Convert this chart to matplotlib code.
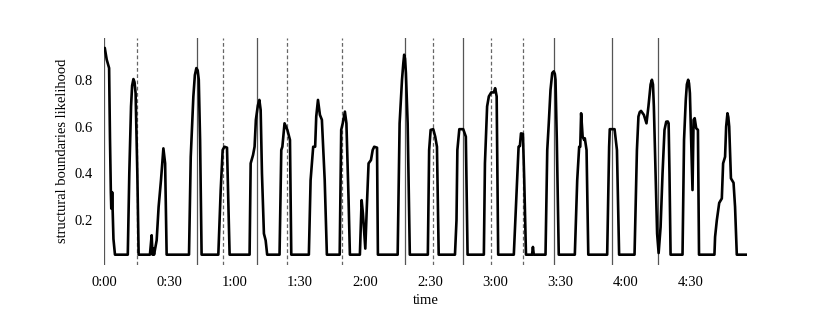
import matplotlib
matplotlib.use("Agg")
import matplotlib.pyplot as plt

# likelihood curve (time in seconds, likelihood)
times = [0.0, 0.2, 1.1, 2.2, 2.6, 3.0, 3.2, 3.4, 3.6, 3.9, 4.2, 4.9,
         10.8, 11.5, 12.3, 12.8, 13.4, 13.9, 14.4, 15.2, 15.8,
         21.0, 21.8, 22.2, 22.5, 22.9, 24.1, 25.0, 26.1, 27.2, 28.0, 28.7,
         39.0, 39.8, 41.0, 41.7, 42.4, 43.0, 43.5, 44.1, 44.8,
         52.5, 53.6, 54.5, 55.3, 56.5, 57.7,
         66.9, 67.4, 68.5, 69.2, 69.8, 70.7, 71.4, 72.0, 72.6, 73.5, 74.3, 75.0,
         80.7, 81.5, 82.0, 83.0, 84.3, 85.5, 86.1,
         94.2, 95.0, 96.2, 97.1, 97.6, 98.4, 99.3, 100.2, 101.5, 102.5,
         108.4, 109.1, 109.8, 110.8, 111.5, 112.5, 113.1,
         117.7, 118.5, 119.1, 120.2, 120.9, 121.7, 122.8, 123.6, 124.3, 125.6, 126.0,
         135.1, 136.0, 137.1, 137.7, 138.1, 138.5, 138.9, 139.7, 140.7,
         149.0, 149.6, 150.3, 151.5, 152.4, 153.2, 154.0,
         161.5, 162.2, 162.6, 163.5, 165.3, 166.5, 167.3,
         174.8, 175.3, 176.3, 177.1, 178.2, 179.4, 180.0, 180.7, 181.4,
         188.6, 189.7, 190.2, 190.8, 191.4, 191.9, 192.8, 193.4, 194.2,
         197.0, 197.4, 197.8,
         203.2, 204.0, 204.7, 205.5, 206.3, 207.0, 207.5, 207.8, 208.4, 209.3,
         216.7, 217.8, 218.7, 219.2, 219.6, 220.3, 221.0, 221.3, 222.1, 222.9,
         231.6, 232.5, 232.8, 235.0, 236.1, 237.1,
         244.2, 245.3, 246.0, 246.6, 247.2, 248.5, 249.7, 250.6, 251.6, 252.2, 252.7,
         253.1, 253.9, 254.6,
         255.3, 256.2, 257.1, 258.0, 258.8, 259.5, 259.9, 260.3, 260.8,
         266.3, 267.0, 267.8, 268.3, 268.9, 269.3, 269.7, 270.3, 270.9, 271.4, 271.9, 272.6, 273.4, 273.9,
         281.0, 281.3, 282.1, 283.2, 284.4, 285.0, 285.9, 286.4, 287.0, 287.4, 287.8, 288.6,
         289.8, 290.5, 291.3, 296.0]
likelihood = [0.93, 0.936, 0.886, 0.85, 0.55, 0.32, 0.25, 0.25, 0.32, 0.22, 0.12, 0.053,
              0.053, 0.40, 0.686, 0.775, 0.803, 0.79, 0.743, 0.40, 0.053,
              0.053, 0.136, 0.053, 0.08, 0.053, 0.114, 0.257, 0.372, 0.507, 0.443, 0.053,
              0.053, 0.471, 0.728, 0.82, 0.850, 0.84, 0.80, 0.543, 0.053,
              0.053, 0.329, 0.50, 0.514, 0.51, 0.053,
              0.053, 0.443, 0.479, 0.514, 0.629, 0.69, 0.714, 0.671, 0.40, 0.143, 0.114, 0.053,
              0.053, 0.50, 0.514, 0.614, 0.586, 0.543, 0.053,
              0.053, 0.371, 0.514, 0.514, 0.643, 0.714, 0.65, 0.629, 0.371, 0.053,
              0.053, 0.586, 0.614, 0.664, 0.614, 0.286, 0.053,
              0.053, 0.286, 0.229, 0.079, 0.257, 0.443, 0.457, 0.50, 0.514, 0.51, 0.053,
              0.053, 0.614, 0.800, 0.87, 0.907, 0.89, 0.829, 0.614, 0.053,
              0.053, 0.50, 0.586, 0.589, 0.557, 0.514, 0.053,
              0.053, 0.20, 0.50, 0.589, 0.589, 0.557, 0.053,
              0.053, 0.443, 0.686, 0.729, 0.746, 0.746, 0.764, 0.729, 0.053,
              0.053, 0.286, 0.40, 0.514, 0.517, 0.571, 0.569, 0.371, 0.053,
              0.053, 0.086, 0.053,
              0.053, 0.50, 0.614, 0.757, 0.829, 0.836, 0.825, 0.800, 0.543, 0.053,
              0.053, 0.371, 0.514, 0.514, 0.657, 0.557, 0.543, 0.55, 0.50, 0.053,
              0.053, 0.514, 0.589, 0.589, 0.50, 0.053,
              0.053, 0.50, 0.643, 0.662, 0.667, 0.65, 0.614, 0.686, 0.78, 0.800, 0.78,
              0.686, 0.40, 0.143,
              0.06, 0.171, 0.40, 0.586, 0.621, 0.622, 0.614, 0.40, 0.053,
              0.053, 0.543, 0.714, 0.78, 0.800, 0.785, 0.743, 0.543, 0.329, 0.629, 0.636, 0.593, 0.586, 0.053,
              0.053, 0.129, 0.20, 0.274, 0.293, 0.443, 0.471, 0.60, 0.657, 0.64, 0.60, 0.379,
              0.36, 0.257, 0.053, 0.053]

# annotated boundaries (seconds)
solid_bounds = [0.0, 42.7, 70.2, 138.6, 165.0, 207.2, 233.6, 255.1]
dashed_bounds = [14.9, 54.8, 84.0, 109.4, 151.2, 177.9, 192.9]

tick_seconds = [0, 30, 60, 90, 120, 150, 180, 210, 240, 270]
tick_labels = ["0:00", "0:30", "1:00", "1:30", "2:00", "2:30", "3:00", "3:30", "4:00", "4:30"]
ytick_values = [0.2, 0.4, 0.6, 0.8]

plt.rcParams['font.family'] = ['Liberation Serif', 'DejaVu Serif']

fig = plt.figure(figsize=(8.3, 3.12), dpi=100)
ax = fig.add_axes([0.1257, 0.1506, 0.7743, 0.7289])

ax.plot(times, likelihood, color='black', lw=1.9, solid_joinstyle='round', zorder=3)
ax.set_xlim(min(times), max(times))
ax.margins(y=0.05)

for b in solid_bounds:
    ax.axvline(b, color='#555555', lw=0.9, zorder=2)
for b in dashed_bounds:
    ax.axvline(b, color='#666666', lw=0.9, ls=(0, (3, 2)), zorder=2)

for s in ax.spines.values():
    s.set_visible(False)

ax.set_xticks(tick_seconds)
ax.set_xticklabels(tick_labels)
ax.set_yticks(ytick_values)
ax.set_yticklabels([f"{v:.1f}" for v in ytick_values])
ax.tick_params(axis='both', length=0, labelsize=10.5)
ax.tick_params(axis='x', pad=8)
ax.tick_params(axis='y', pad=8)
ax.set_xlabel("time", fontsize=10.5, labelpad=3.5)
ax.set_ylabel("structural boundaries likelihood", fontsize=10.5, labelpad=4)

fig.savefig("out.png", dpi=100)
